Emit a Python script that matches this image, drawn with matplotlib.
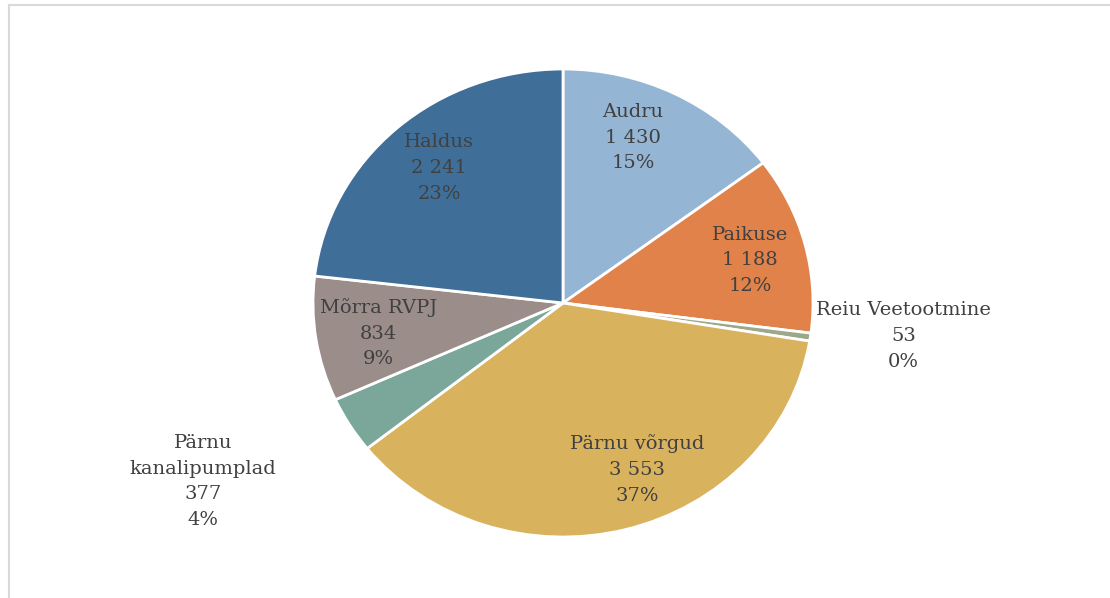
import matplotlib
matplotlib.use("Agg")
import matplotlib.pyplot as plt
from matplotlib.lines import Line2D
import numpy as np

# Cost centres and their amounts (thousand EUR)
categories = ["Audru", "Paikuse", "Reiu Veetootmine", "Pärnu võrgud",
              "Pärnu\nkanalipumplad", "Mõrra RVPJ", "Haldus"]
values = [1430, 1188, 53, 3553, 377, 834, 2241]
shares = [15, 12, 0, 37, 4, 9, 23]   # share of total, %
colors = ["#95B5D4", "#E0824A", "#9DA88A", "#D9B25E", "#7AA79A", "#9A8D8A", "#3F6F98"]

# label placement: (radius, angle offset in degrees) relative to each wedge's middle
label_place = [(0.76, 5), (0.77, -1), (1.37, 2.5), (0.77, 8), (1.63, -3.5), (0.75, 1), (0.76, -1)]

W, H, DPI = 1110, 598, 100
fig = plt.figure(figsize=(W / DPI, H / DPI), dpi=DPI)
ax = fig.add_axes([0, 0, 1, 1])

cx, cy = 563, 303      # pie centre in pixels (from top-left)
rx, ry = 250, 234      # horizontal / vertical radius in pixels

wedges, _ = ax.pie(values, colors=colors, startangle=90, counterclock=False,
                   radius=1.0, wedgeprops=dict(edgecolor="white", linewidth=2.0))
ax.set_aspect("auto")
ax.set_xlim(-cx / rx, (W - cx) / rx)
ax.set_ylim(-(H - cy) / ry, cy / ry)
ax.axis("off")

for w, name, v, pct, (r, da) in zip(wedges, categories, values, shares, label_place):
    mid = np.deg2rad((w.theta1 + w.theta2) / 2 + da)
    txt = f"{name}\n{v:,}".replace(",", " ") + f"\n{pct}%"
    ax.text(r * np.cos(mid), r * np.sin(mid), txt, ha="center", va="center",
            fontsize=14, family="DejaVu Serif", color="#404040", linespacing=1.55)

# light frame along the top and left edges
fig.add_artist(Line2D([9 / W, 1], [1 - 5 / H, 1 - 5 / H], transform=fig.transFigure,
                      color="#D9D9D9", linewidth=1.5))
fig.add_artist(Line2D([9 / W, 9 / W], [0, 1 - 5 / H], transform=fig.transFigure,
                      color="#D9D9D9", linewidth=1.5))

fig.savefig("out.png", dpi=DPI)
